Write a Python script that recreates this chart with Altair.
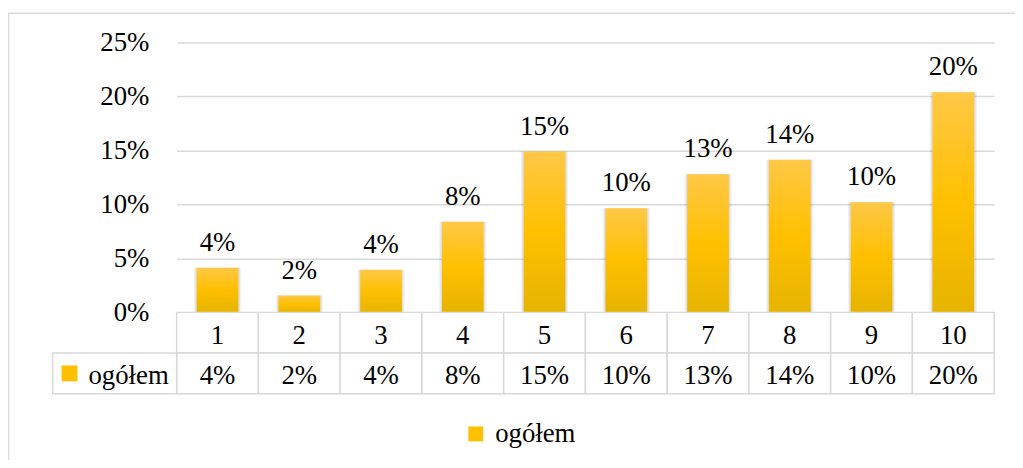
import altair as alt
import pandas as pd

categories = [1, 2, 3, 4, 5, 6, 7, 8, 9, 10]
values = [0.0414, 0.0156, 0.0395, 0.084, 0.149, 0.0965, 0.128, 0.1415, 0.102, 0.204]
series_name = "ogółem"
y_ticks = [0, 0.05, 0.10, 0.15, 0.20, 0.25]

FONT = "Times New Roman, Liberation Serif, DejaVu Serif, serif"
FS = 27
GRID = "#D9D9D9"

df = pd.DataFrame({"cat": categories, "value": values})
table = pd.DataFrame(
    [{"cat": c, "row": "cat", "label": str(c)} for c in categories]
    + [{"cat": c, "row": "val", "label": f"{v:.0%}"} for c, v in zip(categories, values)]
)
header = pd.DataFrame({"row": ["val"], "series": [series_name]})
frame_df = pd.DataFrame({"a": [0]})

x_enc = alt.X("cat:O", scale=alt.Scale(domain=categories, paddingInner=0, paddingOuter=0), axis=None)
y_scale = alt.Scale(domain=[0, 0.25], nice=False)
y_axis = alt.Y(
    "value:Q",
    scale=y_scale,
    axis=alt.Axis(
        values=y_ticks, format=".0%", grid=True, gridColor=GRID, gridWidth=1.5,
        domain=False, ticks=False, labelFont=FONT, labelFontSize=FS,
        labelColor="black", labelPadding=28, title=None,
    ),
)
y_plain = alt.Y("value:Q", scale=y_scale, axis=None)
row_scale = alt.Scale(domain=["cat", "val"], range=[272, 354], paddingInner=0, paddingOuter=0)
y_row = alt.Y("row:N", scale=row_scale, axis=None)

frame = alt.Chart(frame_df).mark_rect(fill=None, stroke=GRID, strokeWidth=1.5).encode(
    x=alt.value(-169.5), x2=alt.value(900), y=alt.value(-29.5), y2=alt.value(600)
)

shadow1 = alt.Chart(df).mark_bar(width=alt.RelativeBandSize(0.58), color="#000000", opacity=0.05).encode(
    x=x_enc, y=y_axis
)
shadow2 = alt.Chart(df).mark_bar(width=alt.RelativeBandSize(0.545), color="#000000", opacity=0.08).encode(
    x=x_enc, y=y_plain
)

gradient = alt.Gradient(
    gradient="linear",
    stops=[
        alt.GradientStop(color="#FFC847", offset=0),
        alt.GradientStop(color="#FFC000", offset=0.5),
        alt.GradientStop(color="#E6B400", offset=1),
    ],
    x1=0, x2=0, y1=0, y2=1,
)
bars = alt.Chart(df).mark_bar(width=alt.RelativeBandSize(0.51), color=gradient).encode(x=x_enc, y=y_plain)

bar_labels = alt.Chart(df).mark_text(
    font=FONT, fontSize=FS, color="black", baseline="alphabetic", dy=-17
).encode(x=x_enc, y=y_plain, text=alt.Text("value:Q", format=".0%"))

cells = alt.Chart(table).mark_rect(fill="white", stroke=GRID, strokeWidth=1.5).encode(x=x_enc, y=y_row)
cell_text = alt.Chart(table).mark_text(font=FONT, fontSize=FS, color="black", baseline="middle", dy=3).encode(
    x=x_enc, y=y_row, text="label:N"
)

head_cell = alt.Chart(header).mark_rect(fill="white", stroke=GRID, strokeWidth=1.5).encode(
    x=alt.value(-125), x2=alt.value(0), y=y_row
)
head_swatch = alt.Chart(header).mark_point(shape="square", filled=True, opacity=1, size=256).encode(
    x=alt.value(-108),
    y=y_row,
    color=alt.Color(
        "series:N",
        scale=alt.Scale(domain=[series_name], range=["#FFC000"]),
        legend=alt.Legend(
            title=None, orient="none", legendX=288, legendY=381, symbolType="square",
            symbolSize=225, symbolStrokeWidth=0, labelFont=FONT, labelFontSize=FS,
            labelColor="black", labelOffset=6, padding=0,
        ),
    ),
)
head_text = alt.Chart(header).mark_text(
    font=FONT, fontSize=FS, color="black", align="right", baseline="middle", dy=3
).encode(x=alt.value(-8), y=y_row, text="series:N")

chart = (
    alt.layer(
        frame, shadow1, shadow2, bars, bar_labels,
        cells, cell_text, head_cell, head_swatch, head_text,
    )
    .resolve_scale(y="independent")
    .properties(
        width=824, height=272,
        autosize=alt.AutoSizeParams(type="none"),
        padding={"left": 170, "top": 33, "right": 21, "bottom": 147},
    )
    .configure_view(stroke=None)
)

chart.save("out.html", embed_options={"renderer": "svg", "actions": False})
